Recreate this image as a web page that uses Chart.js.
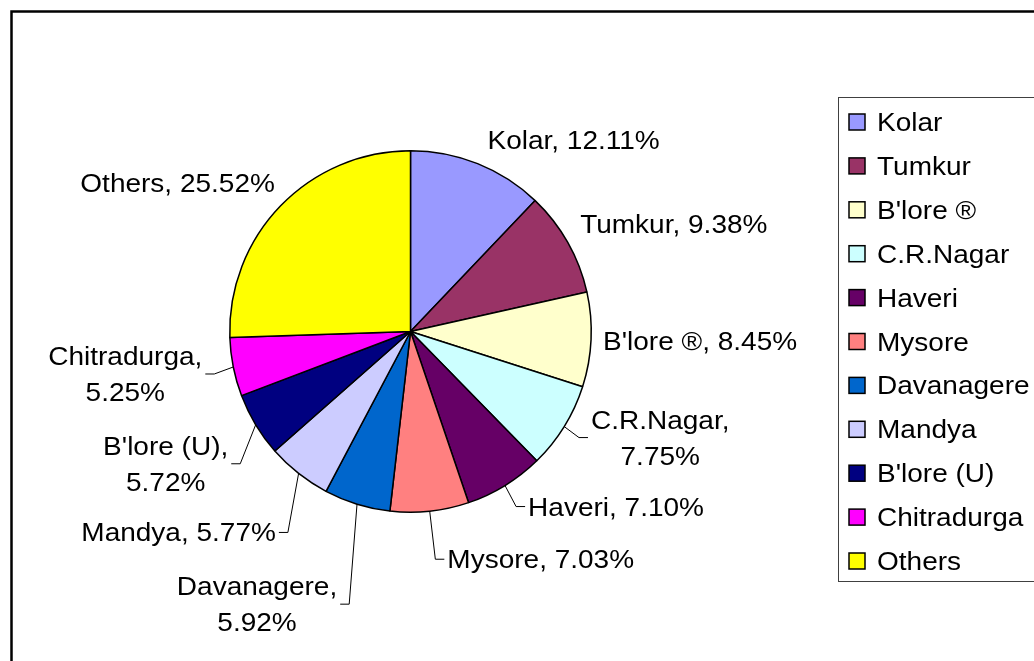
<!DOCTYPE html>
<html>
<head>
<meta charset="utf-8">
<script src="https://cdn.jsdelivr.net/npm/chart.js@4"></script>
<style>
  html, body { margin: 0; padding: 0; background: #fff; }
  #wrap { width: 1034px; height: 661px; }
</style>
</head>
<body>
<div id="wrap"><canvas id="districtPie" width="1034" height="661"></canvas></div>
<script>
const districts = ['Kolar', 'Tumkur', "B'lore \u00AE", 'C.R.Nagar', 'Haveri', 'Mysore', 'Davanagere', 'Mandya', "B'lore (U)", 'Chitradurga', 'Others'];
const shares = [12.11, 9.38, 8.45, 7.75, 7.10, 7.03, 5.92, 5.77, 5.72, 5.25, 25.52];
const sliceColors = ['#9999FF', '#993366', '#FFFFCC', '#CCFFFF', '#660066', '#FF8080', '#0066CC', '#CCCCFF', '#000080', '#FF00FF', '#FFFF00'];

// label layout (offset of label centre from the slice edge point)
const labelOffsets = [[96, -24], [106, -18], [109, 1], [96, 11], [111, 21], [111, 48], [-100, 100], [-120, 59], [-90, 39], [-108, 7], [-103, -23]];
const wrapLabel = [false, false, false, true, false, false, true, false, true, true, false];
const hasLeader = [false, false, false, true, true, true, true, true, true, true, false];

const FONT = '25px "Liberation Sans", Arial, sans-serif';
const STRETCH = 1.12;

function drawText(ctx, text, x, y, align) {
    ctx.save();
    ctx.translate(x, y);
    ctx.scale(STRETCH, 1);
    ctx.textAlign = align;
    ctx.fillText(text, 0, 0);
    ctx.restore();
}

const sliceLabels = {
    id: 'sliceLabels',
    afterDatasetsDraw(chart) {
        const ctx = chart.ctx;
        const meta = chart.getDatasetMeta(0);
        ctx.save();
        ctx.font = FONT;
        ctx.fillStyle = '#000';
        ctx.strokeStyle = '#000';
        ctx.lineWidth = 1;
        ctx.textBaseline = 'alphabetic';
        meta.data.forEach((arc, i) => {
            const p = arc.getProps(['x', 'y', 'startAngle', 'endAngle', 'outerRadius'], true);
            const mid = (p.startAngle + p.endAngle) / 2;
            const px = p.x + Math.cos(mid) * p.outerRadius;
            const py = p.y + Math.sin(mid) * p.outerRadius;
            const cx = px + labelOffsets[i][0];
            const cy = py + labelOffsets[i][1];
            const pct = shares[i].toFixed(2) + '%';
            const lines = wrapLabel[i] ? [districts[i] + ',', pct] : [districts[i] + ', ' + pct];
            const w = Math.max(...lines.map(l => ctx.measureText(l).width * STRETCH));
            const lh = 36;
            const top = cy - (lines.length - 1) * lh / 2;
            lines.forEach((l, k) => drawText(ctx, l, cx, top + k * lh + 9, 'center'));
            if (hasLeader[i]) {
                const side = labelOffsets[i][0] > 0 ? 1 : -1;
                const near = cx - side * w / 2;
                ctx.beginPath();
                ctx.moveTo(px, py);
                ctx.lineTo(near - side * 12, cy);
                ctx.lineTo(near - side * 3, cy);
                ctx.stroke();
            }
        });
        ctx.restore();
    }
};

const boxLegend = {
    id: 'boxLegend',
    afterDraw(chart) {
        const ctx = chart.ctx;
        ctx.save();
        // legend box
        ctx.strokeStyle = '#404040';
        ctx.lineWidth = 1;
        ctx.strokeRect(838.5, 97.5, 300, 484);
        ctx.font = FONT;
        ctx.textBaseline = 'alphabetic';
        districts.forEach((name, i) => {
            const yc = 122 + i * 43.9;
            ctx.fillStyle = sliceColors[i];
            ctx.fillRect(849, yc - 8, 16, 16);
            ctx.strokeStyle = '#000';
            ctx.lineWidth = 1.5;
            ctx.strokeRect(849, yc - 8, 16, 16);
            ctx.fillStyle = '#000';
            drawText(ctx, name, 877, yc + 9, 'left');
        });
        // outer frame
        ctx.strokeStyle = '#000';
        ctx.lineWidth = 2.5;
        ctx.strokeRect(11.5, 11.5, 1100, 700);
        ctx.restore();
    }
};

const data = {
    labels: districts,
    datasets: [{
        data: shares,
        backgroundColor: sliceColors,
        borderColor: '#000',
        borderWidth: 1.5,
        hoverOffset: 0
    }]
};

const configChart = {
    type: 'pie',
    data: data,
    options: {
        responsive: false,
        animation: false,
        layout: { padding: { left: 229, right: 442, top: 150, bottom: 148 } },
        plugins: {
            legend: { display: false },
            tooltip: { enabled: false }
        }
    },
    plugins: [sliceLabels, boxLegend]
};

let chart = new Chart(document.getElementById('districtPie'), configChart);
</script>
</body>
</html>
